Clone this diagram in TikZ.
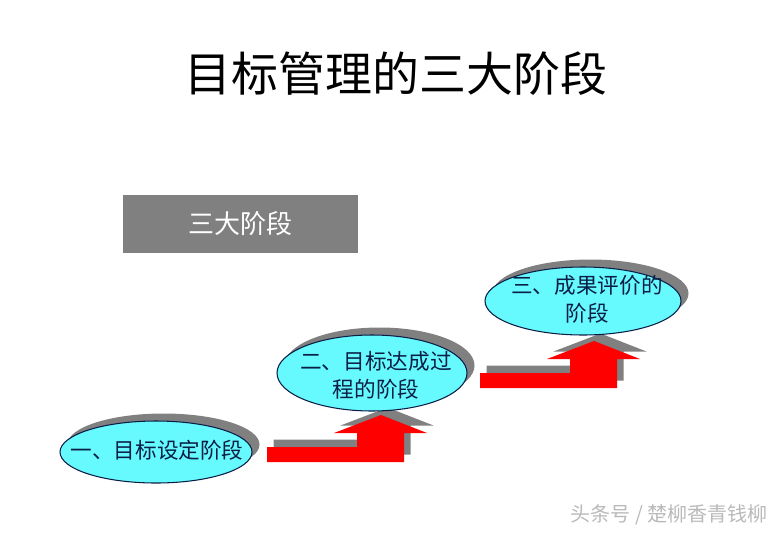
\documentclass[tikz,border=0pt]{standalone}
\usepackage{fontspec}
\newfontfamily\cjk{Noto Sans CJK SC}
\definecolor{stagecyan}{RGB}{102,250,255}
\definecolor{stagenavy}{RGB}{10,30,70}
\definecolor{stagered}{RGB}{255,0,0}
\definecolor{stagegray}{RGB}{128,128,128}
\usepackage{tikz}
\usetikzlibrary{shapes.geometric,shadows,positioning}

\begin{document}
\begin{tikzpicture}[
  shade/.style={general shadow={fill=stagegray, shadow xshift=0.15cm, shadow yshift=0.15cm}},
  stage/.style={ellipse, draw=stagenavy, line width=0.6pt, fill=stagecyan, shade, inner sep=0pt},
  stagetext/.style={align=center, text=stagenavy, inner sep=0pt, font=\cjk\fontsize{12.3}{16}\selectfont},
  label/.style={fill=stagegray, minimum width=4.7cm, minimum height=1.16cm, text=white, font=\cjk\fontsize{14.8}{18}\selectfont},
  steparrow/.pic={
    \fill[stagegray, shift={(0.13,0.15)}] (0,0) -- (2.74,0) -- (2.74,0.58) -- (3.2,0.58) -- (2.28,0.94) -- (1.34,0.58) -- (1.8,0.58) -- (1.8,0.3) -- (0,0.3) -- cycle;
    \fill[stagered] (0,0) -- (2.74,0) -- (2.74,0.58) -- (3.2,0.58) -- (2.28,0.94) -- (1.34,0.58) -- (1.8,0.58) -- (1.8,0.3) -- (0,0.3) -- cycle;
  }
]
\useasboundingbox (0,0) rectangle (15.6,10.7);

\node[font=\cjk\fontsize{26.7}{30}\selectfont] (title) at (7.92,9.22) {目标管理的三大阶段};

\node[label] (phases) at (4.81,6.22) {三大阶段};

% step arrows drawn first so the ellipses sit on top
\pic at (5.34,1.46) {steparrow};
\pic at (9.6,2.94) {steparrow};

\node[stage, minimum width=3.84cm, minimum height=1.24cm] (s1) at (3.12,1.66) {};
\node[stage, minimum width=3.8cm, minimum height=1.52cm] (s2) at (7.44,3.24) {};
\node[stage, minimum width=3.92cm, minimum height=1.36cm] (s3) at (11.66,4.68) {};
\node[stagetext] (t1) at (3.14,1.69) {一、目标设定阶段};
\node[stagetext] (t2) at (7.52,3.2) {二、目标达成过\\程的阶段};
\node[stagetext] (t3) at (11.74,4.72) {三、成果评价的\\阶段};

\node[text=gray!55, font=\cjk\fontsize{11.4}{13}\selectfont] (mark) at (13.38,0.4) {头条号 / 楚柳香青钱柳};
\end{tikzpicture}
\end{document}
